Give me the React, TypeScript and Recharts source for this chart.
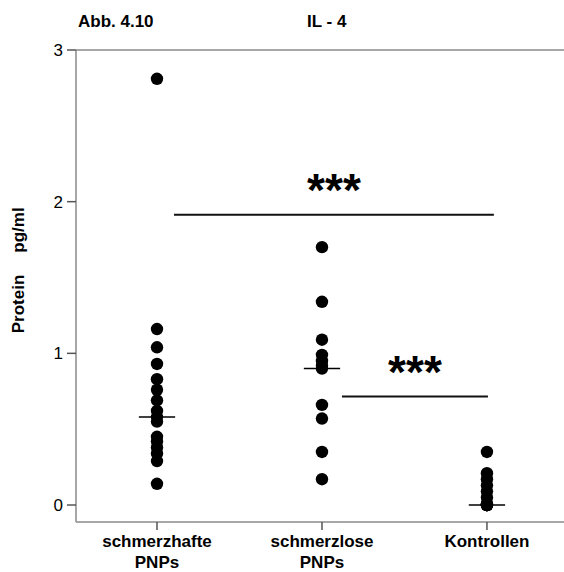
import React from 'react';
import {
  ComposedChart, Scatter, XAxis, YAxis, ReferenceLine, Customized,
} from 'recharts';

const groups = ['schmerzhafte|PNPs', 'schmerzlose|PNPs', 'Kontrollen'];
const painful = [2.81, 1.16, 1.04, 0.93, 0.83, 0.76, 0.69, 0.62, 0.58, 0.55, 0.45, 0.42, 0.38, 0.34, 0.29, 0.14];
const painless = [1.70, 1.34, 1.09, 0.99, 0.95, 0.92, 0.90, 0.66, 0.57, 0.35, 0.17];
const controls = [0.35, 0.21, 0.17, 0.13, 0.09, 0.05, 0.01, 0, 0, 0, 0, 0, 0];
const medians = [0.58, 0.90, 0.0];
const yTicks = [0, 1, 2, 3];
const sig1 = { from: 1.103, to: 3.042, y: 1.914 };
const sig2 = { from: 2.121, to: 3.006, y: 0.715 };

const series = [painful, painless, controls];
const points = series.flatMap((vals, gi) => vals.map((v) => ({ x: gi + 1, y: v })));

const FONT = '"Liberation Sans", Arial, sans-serif';
const AXIS = '#8a8a8a';

const Dot = (p: any) => <circle cx={p.cx} cy={p.cy} r={6.2} fill="#000" />;

const XTick = (p: any) => {
  const label = groups[(p.payload.value as number) - 1] || '';
  const lines = label.split('|');
  return (
    <text x={p.x} y={p.y} textAnchor="middle" fontFamily={FONT} fontWeight="bold" fontSize={17} fill="#000">
      {lines.map((l: string, i: number) => (
        <tspan key={i} x={p.x} y={547 + i * 21}>{l}</tspan>
      ))}
    </text>
  );
};

const Titles = () => (
  <g fontFamily={FONT} fontWeight="bold" fontSize={17} fill="#000">
    <text x={78} y={27}>Abb. 4.10</text>
    <text x={307} y={27}>IL - 4</text>
    <text transform="translate(24,304) rotate(-90)" textAnchor="middle">Protein</text>
    <text transform="translate(24,230) rotate(-90)" textAnchor="middle">pg/ml</text>
  </g>
);

const stars = {
  value: '***', position: 'top' as const, offset: 9, fill: '#000',
  fontSize: 46, fontWeight: 'bold', fontFamily: FONT,
};

export default function App() {
  return (
    <div style={{ position: 'absolute', left: 0, top: 0, background: '#fff' }}>
      <ComposedChart width={564} height={572} data={points}
        margin={{ top: 50, right: 0, bottom: 0, left: 0 }}>
        <XAxis type="number" dataKey="x" domain={[0.509, 3.467]} ticks={[1, 2, 3]}
          allowDataOverflow tick={<XTick />} tickSize={8} height={50}
          axisLine={{ stroke: AXIS, strokeWidth: 1.5 }} tickLine={{ stroke: '#555', strokeWidth: 1.5 }} />
        <YAxis type="number" dataKey="y" domain={[-0.112, 3]} ticks={yTicks}
          allowDataOverflow width={76} tickSize={9} tickMargin={4}
          tick={{ fill: '#000', fontSize: 17, fontFamily: FONT }}
          axisLine={{ stroke: AXIS, strokeWidth: 1.5 }} tickLine={{ stroke: '#555', strokeWidth: 1.5 }} />
        <ReferenceLine y={3} stroke={AXIS} strokeWidth={1.5} />
        {medians.map((m, i) => (
          <ReferenceLine key={i} segment={[{ x: i + 1 - 0.11, y: m }, { x: i + 1 + 0.11, y: m }]}
            stroke="#000" strokeWidth={1.5} ifOverflow="visible" />
        ))}
        <ReferenceLine segment={[{ x: sig1.from, y: sig1.y }, { x: sig1.to, y: sig1.y }]}
          stroke="#111" strokeWidth={2} ifOverflow="visible" label={stars} />
        <ReferenceLine segment={[{ x: sig2.from, y: sig2.y }, { x: sig2.to, y: sig2.y }]}
          stroke="#111" strokeWidth={2} ifOverflow="visible" label={stars} />
        <Scatter data={points} dataKey="y" shape={<Dot />} isAnimationActive={false} />
        <Customized component={<Titles />} />
      </ComposedChart>
    </div>
  );
}
